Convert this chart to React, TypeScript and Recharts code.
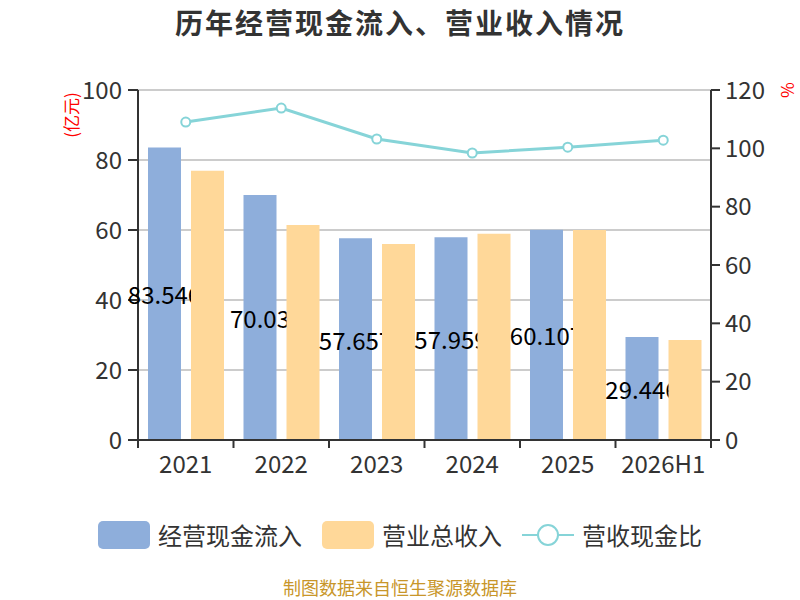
import React from "react";
import {
  ComposedChart,
  Bar,
  Line,
  XAxis,
  YAxis,
  CartesianGrid,
  LabelList,
} from "recharts";

const YEARS = ["2021", "2022", "2023", "2024", "2025", "2026H1"];
const CASH_INFLOW = [83.546, 70.03, 57.657, 57.959, 60.107, 29.446];
const REVENUE = [76.9, 61.4, 56.0, 58.9, 60.0, 28.6];
const RATIO = [109.0, 113.8, 103.2, 98.4, 100.4, 102.8];
const LEFT_TICKS = [0, 20, 40, 60, 80, 100];
const RIGHT_TICKS = [0, 20, 40, 60, 80, 100, 120];

const BLUE = "#8eaedb";
const ORANGE = "#ffd899";
const TEAL = "#86d4d8";
const AXIS = "#333";
const FONT = "'Noto Sans CJK SC', 'Noto Sans', sans-serif";

const W = 800;
const H = 600;
const LEFT_W = 138;
const RIGHT_W = 89;
const BAR_GAP = 10;
const BAND = (W - LEFT_W - RIGHT_W) / YEARS.length;

const data = YEARS.map((year, i) => ({
  year,
  cash: CASH_INFLOW[i],
  revenue: REVENUE[i],
  ratio: RATIO[i],
}));

function XTick(props: any) {
  const { x, y, payload, index } = props;
  const last = index === YEARS.length - 1;
  return (
    <g>
      <line x1={x - BAND / 2} x2={x - BAND / 2} y1={y - 9} y2={y} stroke={AXIS} strokeWidth={2} />
      {last && (
        <line x1={x + BAND / 2} x2={x + BAND / 2} y1={y - 9} y2={y} stroke={AXIS} strokeWidth={2} />
      )}
      <text x={x} y={y + 25} textAnchor="middle" fontSize={24} fill={AXIS} fontFamily={FONT}>
        {payload.value}
      </text>
    </g>
  );
}

// the neighbouring revenue bar hides the end of the value, as in the source chart
function CashLabel(props: any) {
  const { x, y, width, height, value, index } = props;
  const id = `cash-clip-${index}`;
  const cx = x + width / 2;
  const cy = y + height / 2;
  return (
    <g>
      <defs>
        <clipPath id={id}>
          <rect x={cx - 80} y={cy - 30} width={80 + width / 2 + BAR_GAP} height={60} />
        </clipPath>
      </defs>
      <text
        x={cx}
        y={cy}
        textAnchor="middle"
        dominantBaseline="central"
        fontSize={24}
        fill="#000"
        fontFamily={FONT}
        clipPath={`url(#${id})`}
      >
        {value}
      </text>
    </g>
  );
}

function LegendBox({ color, left }: { color: string; left: number }) {
  return (
    <div
      style={{
        position: "absolute",
        left,
        top: 521,
        width: 52,
        height: 28,
        borderRadius: 5,
        background: color,
      }}
    />
  );
}

function LegendText({ text, left }: { text: string; left: number }) {
  return (
    <div
      style={{
        position: "absolute",
        left,
        top: 519,
        fontSize: 24,
        lineHeight: "32px",
        color: AXIS,
        fontFamily: FONT,
        whiteSpace: "nowrap",
      }}
    >
      {text}
    </div>
  );
}

export default function App() {
  return (
    <div style={{ position: "absolute", left: 0, top: 0, width: W, height: H, background: "#fff", fontFamily: FONT }}>
      <div
        style={{
          position: "absolute",
          left: 0,
          top: 4,
          width: W,
          textAlign: "center",
          fontSize: 28,
          fontWeight: 700,
          letterSpacing: 2,
          lineHeight: "36px",
          color: AXIS,
        }}
      >
        历年经营现金流入、营业收入情况
      </div>

      <ComposedChart
        width={W}
        height={H}
        data={data}
        margin={{ top: 90, right: 0, bottom: 120, left: 0 }}
        barGap={BAR_GAP}
        barCategoryGap={10}
        style={{ fontFamily: FONT }}
      >
        <CartesianGrid yAxisId="left" vertical={false} stroke="#cccccc" strokeWidth={2} />
        <XAxis
          dataKey="year"
          height={40}
          axisLine={{ stroke: AXIS, strokeWidth: 2 }}
          tickLine={false}
          tick={<XTick />}
          interval={0}
        />
        <YAxis
          yAxisId="left"
          width={LEFT_W}
          domain={[0, 100]}
          ticks={LEFT_TICKS}
          axisLine={{ stroke: AXIS, strokeWidth: 2 }}
          tickLine={{ stroke: AXIS, strokeWidth: 2 }}
          tickSize={10}
          tickMargin={6}
          tick={{ fontSize: 24, fill: AXIS }}
        />
        <YAxis
          yAxisId="right"
          orientation="right"
          width={RIGHT_W}
          domain={[0, 120]}
          ticks={RIGHT_TICKS}
          axisLine={{ stroke: AXIS, strokeWidth: 2 }}
          tickLine={{ stroke: AXIS, strokeWidth: 2 }}
          tickSize={9}
          tickMargin={5}
          tick={{ fontSize: 24, fill: AXIS, textAnchor: "start" }}
        />
        <Bar yAxisId="left" dataKey="cash" name="经营现金流入" fill={BLUE} barSize={33} isAnimationActive={false}>
          <LabelList dataKey="cash" content={<CashLabel />} />
        </Bar>
        <Bar yAxisId="left" dataKey="revenue" name="营业总收入" fill={ORANGE} barSize={33} isAnimationActive={false} />
        <Line
          yAxisId="right"
          dataKey="ratio"
          name="营收现金比"
          stroke={TEAL}
          strokeWidth={3}
          dot={{ r: 4.5, fill: "#fff", stroke: TEAL, strokeWidth: 2 }}
          activeDot={false}
          isAnimationActive={false}
        />
      </ComposedChart>

      <div
        style={{
          position: "absolute",
          left: 70,
          top: 115,
          transform: "translate(-50%, -50%) rotate(-90deg)",
          fontSize: 17,
          color: "#ff0000",
          whiteSpace: "nowrap",
        }}
      >
        (亿元)
      </div>
      <div
        style={{
          position: "absolute",
          left: 788,
          top: 90,
          transform: "translate(-50%, -50%) rotate(90deg)",
          fontSize: 17,
          color: "#ff0000",
        }}
      >
        %
      </div>

      <LegendBox color={BLUE} left={98} />
      <LegendText text="经营现金流入" left={158} />
      <LegendBox color={ORANGE} left={322} />
      <LegendText text="营业总收入" left={382} />
      <svg style={{ position: "absolute", left: 522, top: 521 }} width={52} height={28}>
        <line x1={0} x2={52} y1={14} y2={14} stroke={TEAL} strokeWidth={2} />
        <circle cx={26} cy={14} r={10} fill="#fff" stroke={TEAL} strokeWidth={2} />
      </svg>
      <LegendText text="营收现金比" left={582} />

      <div
        style={{
          position: "absolute",
          left: 0,
          top: 577,
          width: W,
          textAlign: "center",
          fontSize: 18,
          lineHeight: "20px",
          color: "#c8962a",
        }}
      >
        制图数据来自恒生聚源数据库
      </div>
    </div>
  );
}
